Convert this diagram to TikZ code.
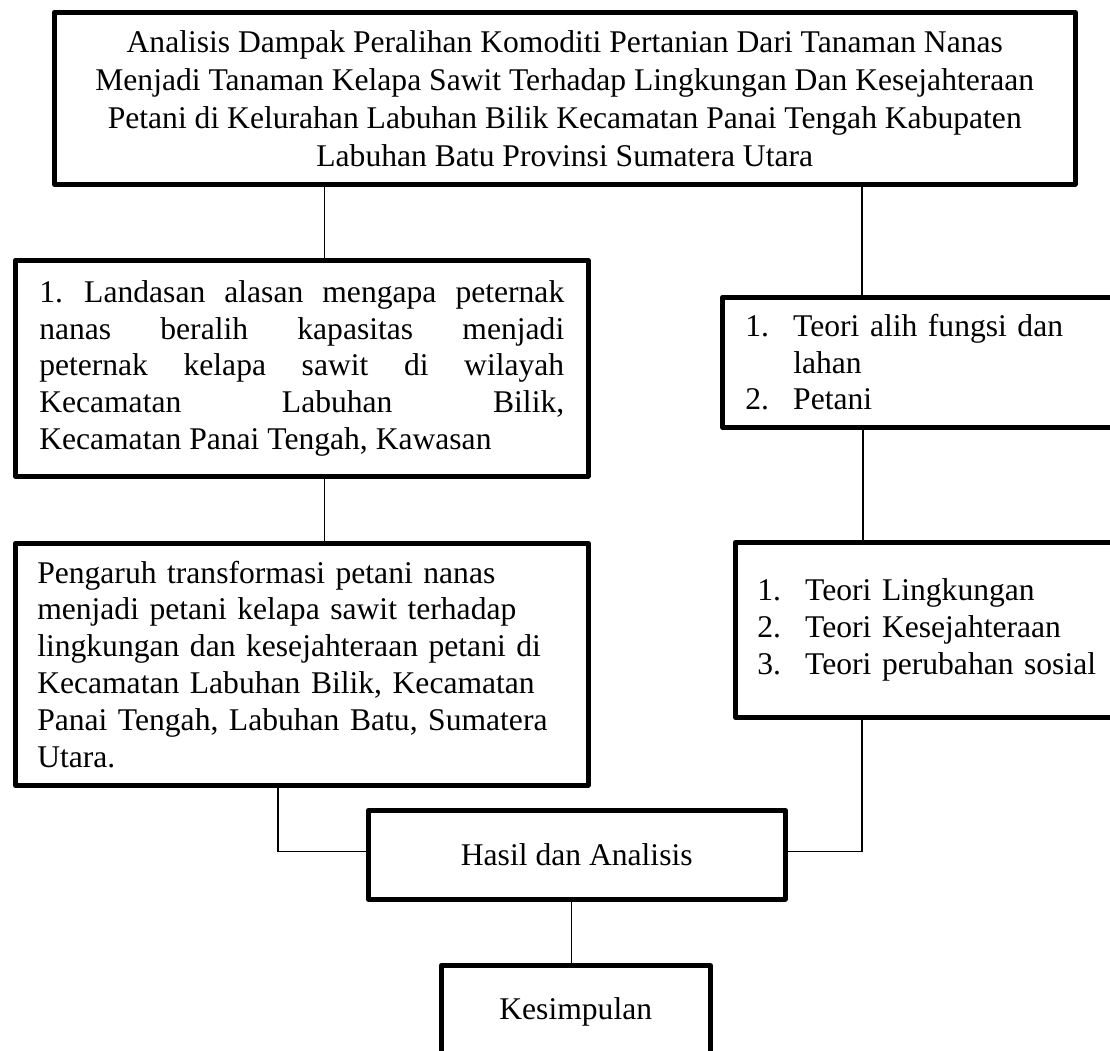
\documentclass[tikz,border=0pt]{standalone}
\usepackage{fontspec}
\setmainfont{Liberation Serif}
\usepackage{tikz}
\usetikzlibrary{positioning,calc}
\definecolor{boxink}{HTML}{000000}

\begin{document}
\begin{tikzpicture}[x=1pt,y=-1pt,
  panel/.style={draw=boxink,line width=4.5pt,line join=round,rectangle,
    inner ysep=0pt,anchor=north west,font=\fontsize{31.6}{36.8}\selectfont},
  link/.style={draw=boxink,line width=1.3pt}]
  \path[use as bounding box,fill=white] (0,0) rectangle (1110,1050);
  \clip (0,0) rectangle (1110,1050);
  \node[panel,minimum width=1021pt,minimum height=172pt,align=center,
    font=\fontsize{31.6}{38}\selectfont] (judul) at (52,10)
    {Analisis Dampak Peralihan Komoditi Pertanian Dari Tanaman Nanas\\
     Menjadi Tanaman Kelapa Sawit Terhadap Lingkungan Dan Kesejahteraan\\
     Petani di Kelurahan Labuhan Bilik Kecamatan Panai Tengah Kabupaten\\
     Labuhan Batu Provinsi Sumatera Utara};
  \node[panel,minimum width=573pt,minimum height=216pt,text width=525pt,
    inner xsep=24pt,align=justify] (landasan) at (13,258)
    {\parfillskip=0pt \hangindent=45pt\hangafter=1\noindent
     \makebox[45pt][l]{1.}Landasan alasan mengapa peternak\linebreak
     nanas beralih kapasitas menjadi\linebreak
     peternak kelapa sawit di wilayah\linebreak
     Kecamatan Labuhan Bilik,\linebreak
     Kecamatan Panai Tengah, Kawasan};
  \node[panel,minimum width=430pt,minimum height=130pt,text width=384pt,
    inner xsep=23pt,align=left] (alih) at (720,295)
    {\makebox[48pt][l]{1.}Teori alih fungsi dan\\
     \hspace*{48pt}lahan\\
     \makebox[48pt][l]{2.}Petani};
  \node[panel,minimum width=573pt,minimum height=242pt,text width=529pt,
    inner xsep=22pt,align=left] (pengaruh) at (13,541)
    {Pengaruh transformasi petani nanas\\
     menjadi petani kelapa sawit terhadap\\
     lingkungan dan kesejahteraan petani di\\
     Kecamatan Labuhan Bilik, Kecamatan\\
     Panai Tengah, Labuhan Batu, Sumatera\\
     Utara.};
  \node[panel,minimum width=430pt,minimum height=175pt,text width=386pt,
    inner xsep=22pt,align=left] (teori) at (733,540)
    {\makebox[48pt][l]{1.}Teori Lingkungan\\
     \makebox[48pt][l]{2.}Teori Kesejahteraan\\
     \makebox[48pt][l]{3.}Teori perubahan sosial};
  \node[panel,minimum width=417pt,minimum height=89pt] (hasil) at (366,808)
    {Hasil dan Analisis};
  \node[panel,minimum width=269pt,minimum height=94pt] (simpulan) at (439,963)
    {Kesimpulan};
  \draw[link] ([xshift=23pt]landasan.north) -- ([xshift=23pt]landasan.north |- judul.south);
  \draw[link] ([xshift=142pt]alih.north west) -- ([xshift=142pt]alih.north west |- judul.south);
  \draw[link] ([xshift=23pt]landasan.south) -- ([xshift=23pt]landasan.south |- pengaruh.north);
  \draw[link] ([xshift=143pt]alih.south west) -- ([xshift=143pt]alih.south west |- teori.north);
  \draw[link] ([xshift=265pt]pengaruh.south west) |- ([yshift=3pt]hasil.west);
  \draw[link] ([xshift=129pt]teori.south west) |- ([yshift=3pt]hasil.east);
  \draw[link] ([xshift=-5pt]hasil.south) -- ([xshift=-5pt]hasil.south |- simpulan.north);
\end{tikzpicture}
\end{document}
